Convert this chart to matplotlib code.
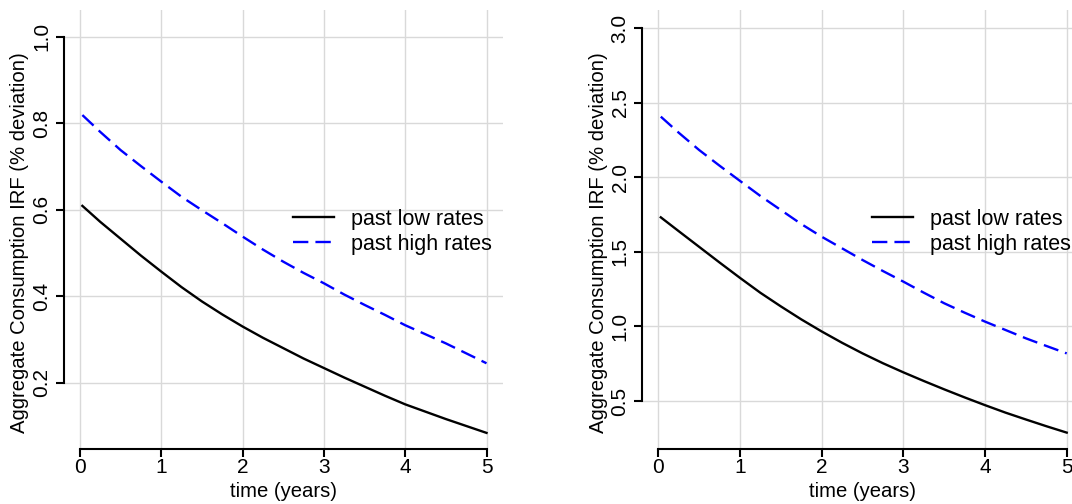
import matplotlib
matplotlib.use("Agg")
import matplotlib.pyplot as plt

plt.rcParams["font.family"] = ["Liberation Sans", "DejaVu Sans"]

FS_TICK = 15
FS_LAB = 14.6
FS_LEG = 15.5
GRID = (0.85, 0.85, 0.85)

# time in years (quarterly)
t = [0.03, 0.25, 0.5, 0.75, 1.0, 1.25, 1.5, 1.75, 2.0, 2.25, 2.5,
     2.75, 3.0, 3.25, 3.5, 3.75, 4.0, 4.25, 4.5, 4.75, 5.0]

# left panel
low_left = [0.609, 0.572, 0.533, 0.494, 0.457, 0.421, 0.388, 0.358, 0.330, 0.304, 0.280,
            0.256, 0.234, 0.212, 0.191, 0.170, 0.150, 0.133, 0.116, 0.100, 0.084]
high_left = [0.819, 0.780, 0.738, 0.701, 0.665, 0.630, 0.599, 0.569, 0.538, 0.508, 0.480,
             0.454, 0.430, 0.404, 0.380, 0.357, 0.333, 0.312, 0.291, 0.268, 0.245]

# right panel
low_right = [1.731, 1.638, 1.533, 1.428, 1.325, 1.225, 1.134, 1.047, 0.966, 0.890, 0.819,
             0.753, 0.692, 0.634, 0.578, 0.524, 0.472, 0.422, 0.376, 0.331, 0.288]
high_right = [2.406, 2.298, 2.182, 2.077, 1.975, 1.874, 1.780, 1.686, 1.601, 1.523, 1.445,
              1.371, 1.300, 1.226, 1.155, 1.092, 1.032, 0.976, 0.920, 0.869, 0.819]

x_ticks = [0, 1, 2, 3, 4, 5]
y_ticks_left = [0.2, 0.4, 0.6, 0.8, 1.0]
y_ticks_right = [0.5, 1.0, 1.5, 2.0, 2.5, 3.0]

labels = ["past low rates", "past high rates"]
ylab = "Aggregate Consumption IRF (% deviation)"
xlab = "time (years)"


def draw_panel(ax, low, high, yticks, ylim):
    ax.set_xlim(-0.2, 5.2)
    ax.set_ylim(*ylim)
    ax.set_xticks(x_ticks)
    ax.set_yticks(yticks)
    ax.set_yticklabels([f"{v:.1f}" for v in yticks])
    ax.grid(True, color=GRID, linewidth=1.0)
    ax.set_axisbelow(True)

    ax.plot(t, low, color="black", linewidth=1.7, label=labels[0])
    ax.plot(t, high, color="blue", linewidth=1.7, linestyle=(0, (6.5, 3)),
            label=labels[1])

    for s in ["top", "right"]:
        ax.spines[s].set_visible(False)
    ax.spines["left"].set_bounds(yticks[0], yticks[-1])
    ax.spines["bottom"].set_bounds(0, 5)
    for s in ["left", "bottom"]:
        ax.spines[s].set_linewidth(1.5)

    ax.tick_params(axis="both", length=6, width=1.5, labelsize=FS_TICK)
    ax.tick_params(axis="x", pad=0.5)
    ax.tick_params(axis="y", labelrotation=90, pad=3)
    for lab in ax.get_yticklabels():
        lab.set_verticalalignment("center")

    ax.set_xlabel(xlab, fontsize=FS_LAB, va="center")
    ax.xaxis.set_label_coords(0.5, -0.097)
    ax.set_ylabel(ylab, fontsize=FS_LAB, va="center")
    ax.yaxis.set_label_coords(-0.0995, 0.47)

    ax.legend(loc="upper left", bbox_to_anchor=(0.522, 0.548), frameon=False,
              fontsize=FS_LEG, borderpad=0, borderaxespad=0, handlelength=1.9,
              handletextpad=0.8, labelspacing=0.19)


fig = plt.figure(figsize=(10.72, 5.04), dpi=100)
ax1 = fig.add_axes([0.0594, 0.1085, 0.4096, 0.8717])
ax2 = fig.add_axes([0.5989, 0.1085, 0.4114, 0.8717])

draw_panel(ax1, low_left, high_left, y_ticks_left, (0.046, 1.062))
draw_panel(ax2, low_right, high_right, y_ticks_right, (0.176, 3.121))

fig.savefig("out.png", dpi=100)
